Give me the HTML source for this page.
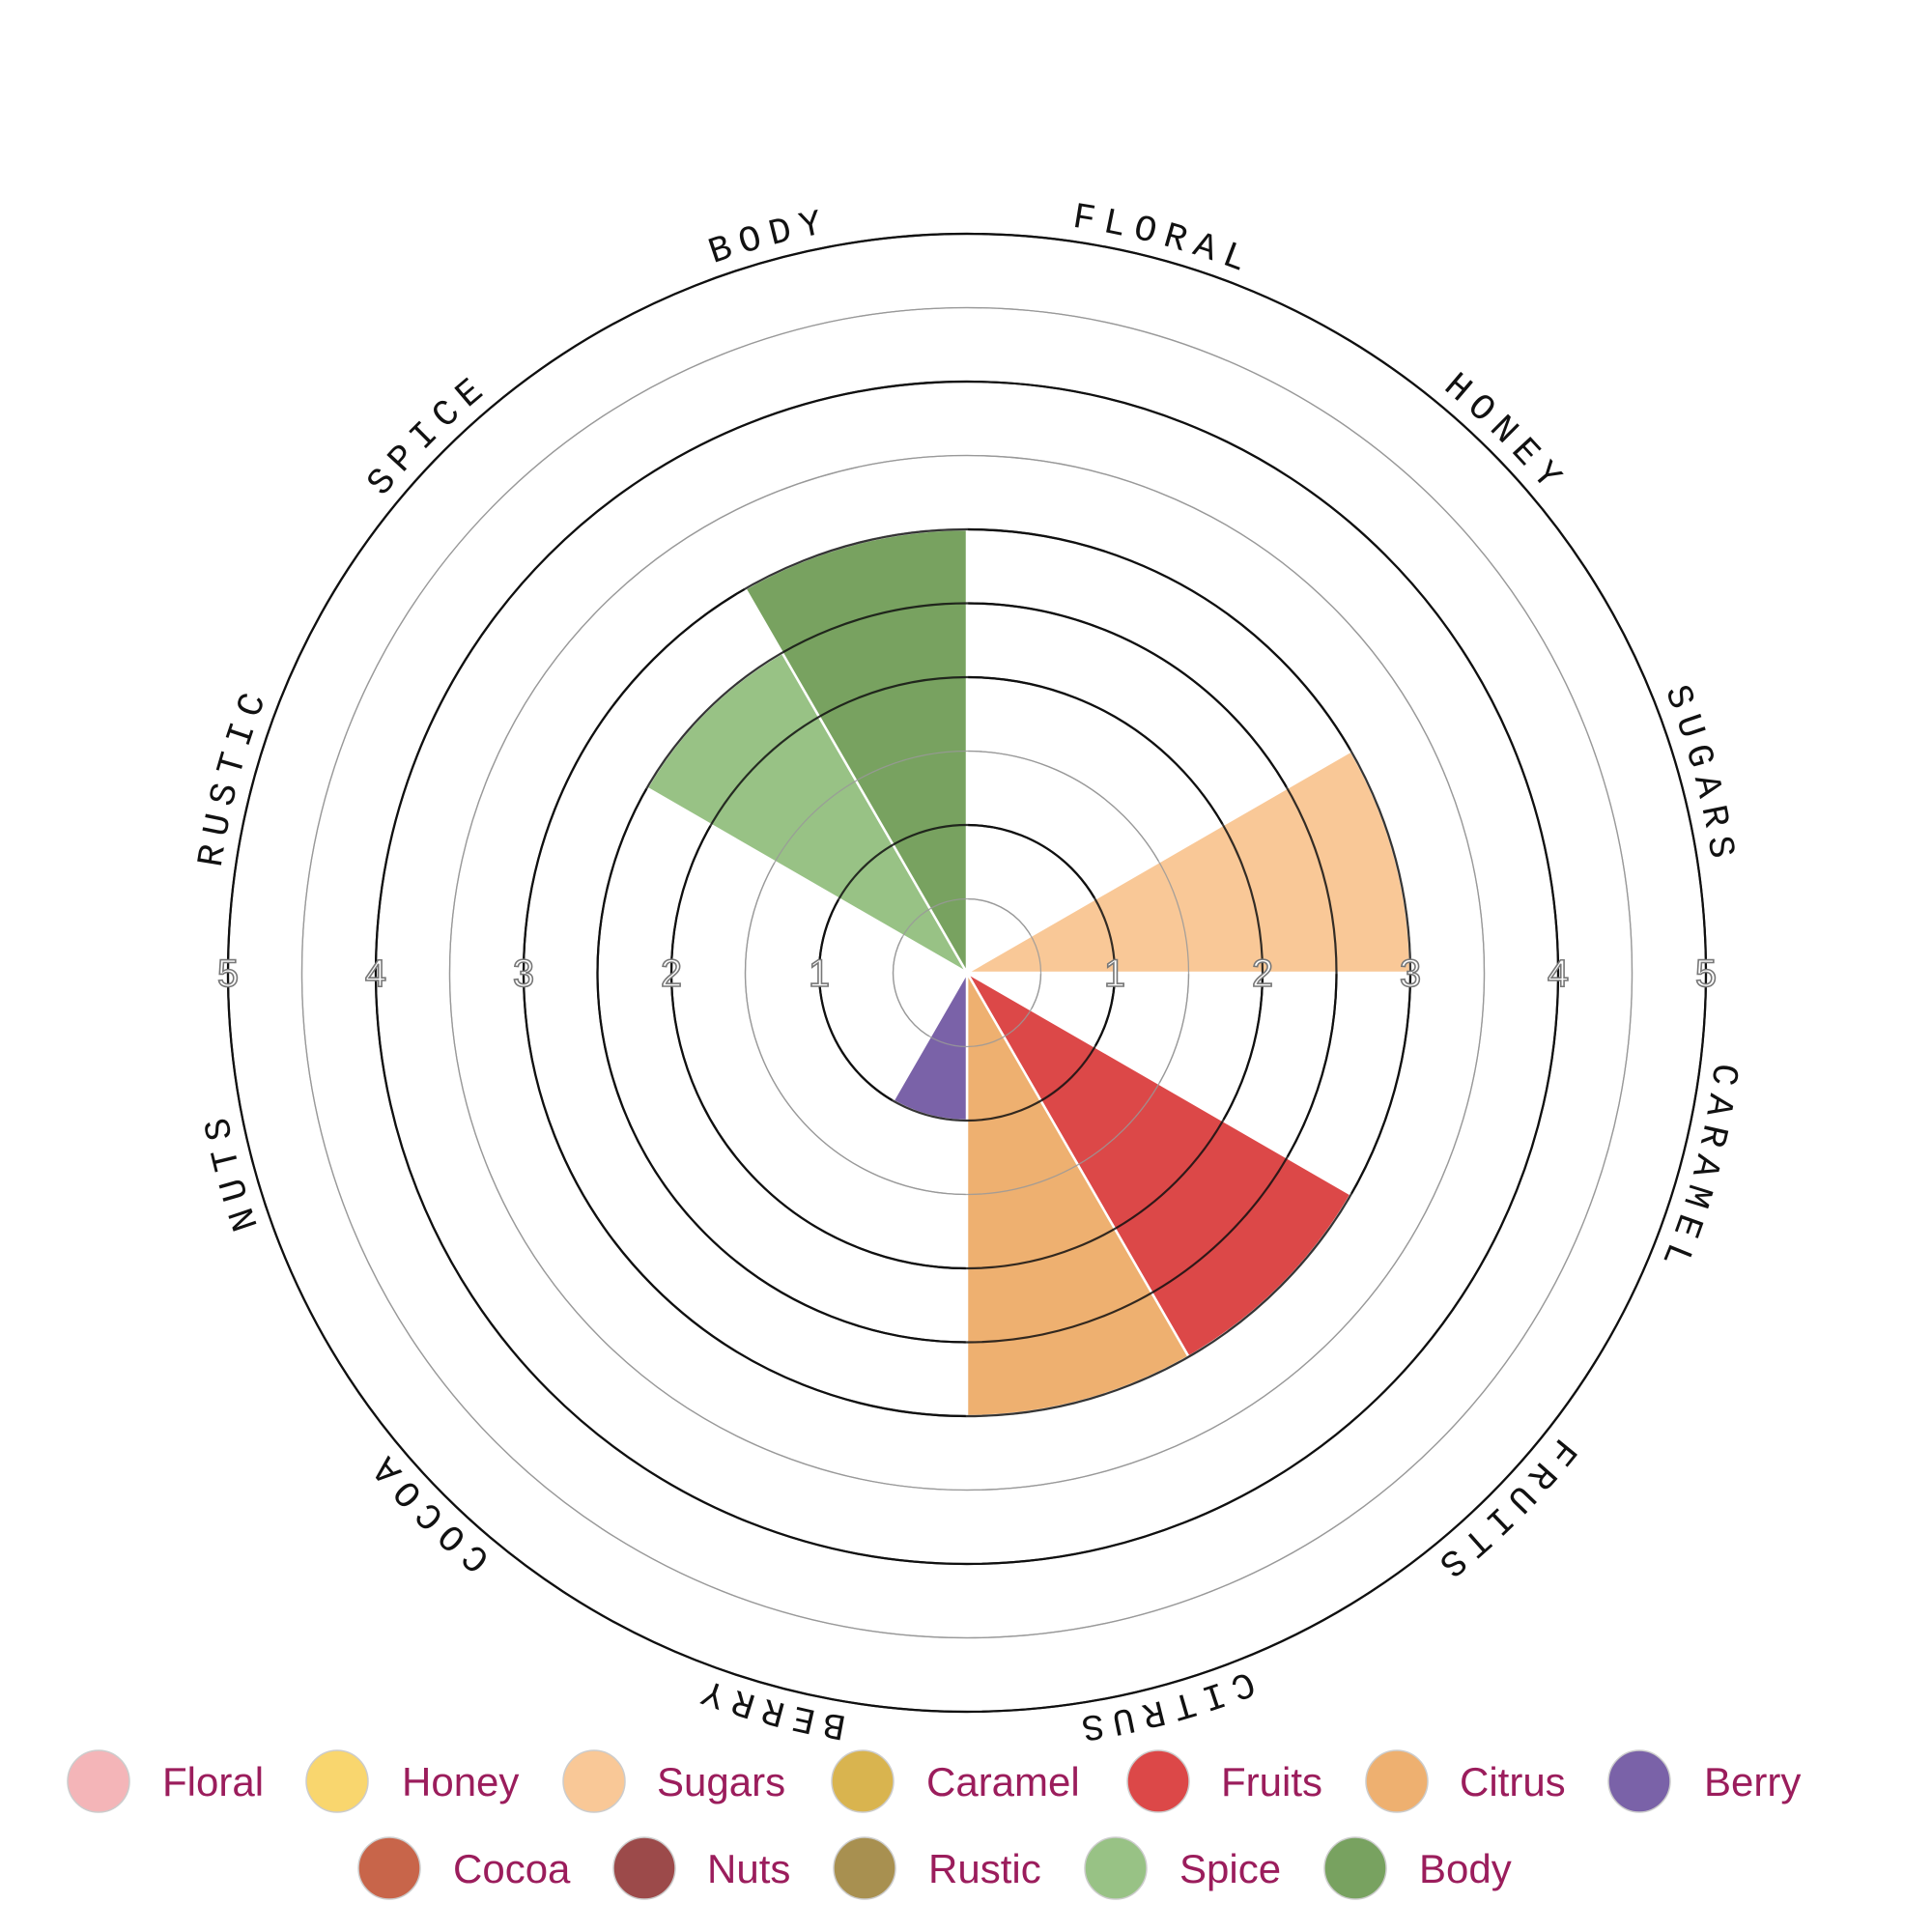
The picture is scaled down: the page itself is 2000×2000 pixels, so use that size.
<!DOCTYPE html>
<html><head><meta charset="utf-8"><style>
html,body{margin:0;padding:0;background:#fff;}
svg{display:block;}
</style></head><body>
<svg id="chart" width="2000" height="2000" viewBox="0 0 2000 2000" xmlns="http://www.w3.org/2000/svg">
<g id="rings"></g>
<g id="wedges"></g>
<g id="ticks"></g>
<g id="labels"></g>
<g id="legend"></g>
</svg>
<script>
const categories = ["Floral","Honey","Sugars","Caramel","Fruits","Citrus","Berry","Cocoa","Nuts","Rustic","Spice","Body"];
const values = [0,0,3,0,3,3,1,0,0,0,2.5,3];
const colors = ["#f4b5b8","#f9d66e","#f9c897","#d9b44f","#dc4848","#eeb070","#7a62a8","#c8654a","#9c4a4a","#a89050","#98c285","#78a260"];
const tickLabels = ["1","2","3","4","5"];
const maxVal = 5;

const NS="http://www.w3.org/2000/svg";
const cx=1001, cy=1007, R=765;
const rScale=v=>v/maxVal*R;
const aScale=i=>i*360/categories.length;
function pt(r,deg){const a=deg*Math.PI/180;return [cx+r*Math.sin(a), cy-r*Math.cos(a)];}
function mk(tag,attrs,parent){const e=document.createElementNS(NS,tag);for(const k in attrs)e.setAttribute(k,attrs[k]);parent.appendChild(e);return e;}

const rings=document.getElementById('rings');
for(let k=1;k<=maxVal*2;k++){
  const v=k/2;
  const major=(k%2===0)||k===5;
  const c=mk('circle',{cx:cx,cy:cy,r:rScale(v),fill:'none',stroke:major?'#111':'#999',"stroke-width":major?2.2:1.3},rings);
  
  
}

const wg=document.getElementById('wedges');
categories.forEach((c,i)=>{
  const v=values[i]; if(v<=0) return;
  const r=rScale(v), a0=aScale(i), a1=aScale(i+1);
  const p0=pt(r,a0), p1=pt(r,a1);
  const p=mk('path',{d:`M${cx},${cy}L${p0[0]},${p0[1]}A${r},${r} 0 0 1 ${p1[0]},${p1[1]}Z`,fill:colors[i],stroke:'#fff',"stroke-width":2.5,"stroke-linejoin":"round"},wg);
  
  
});
// redraw rings faintly over wedges
for(let k=1;k<=maxVal*2;k++){
  const v=k/2; const major=(k%2===0)||k===5;
  const c=mk('circle',{cx:cx,cy:cy,r:rScale(v),fill:'none',stroke:major?'#111':'#999',"stroke-width":major?2.2:1.3,opacity:0.85},wg);
  
  
}

const tg=document.getElementById('ticks');
tickLabels.forEach((t,i)=>{
  const r=rScale(i+1);
  [cx+r,cx-r].forEach(x=>{
    const e=mk('text',{x:x,y:cy+14,"text-anchor":"middle","font-family":"Liberation Sans, sans-serif","font-size":40,fill:'#fff',stroke:'#777',"stroke-width":1.6},tg);
    e.textContent=t;
    
    
  });
});

const lg=document.getElementById('labels');
const LR=780;
mk('path',{id:'labelPath',d:`M${cx},${cy-LR}A${LR},${LR} 0 1 1 ${cx},${cy+LR}A${LR},${LR} 0 1 1 ${cx},${cy-LR}`,fill:'none'},lg);
categories.forEach((c,i)=>{
  const mid=(aScale(i)+aScale(i+1))/2;
  const t=mk('text',{"font-family":"Liberation Mono, monospace","font-size":38,fill:'#111',"letter-spacing":9,"text-anchor":"middle"},lg);
  
  
  const tp=mk('textPath',{href:'#labelPath',startOffset:(mid/360*100)+'%'},t);
  tp.textContent=c.toUpperCase();
});

const leg=document.getElementById('legend');
const rows=[[0,7,[102,349,615,893,1199,1446,1697],[168,416,680,959,1264,1511,1764],1844],[7,12,[403,667,895,1155,1403],[469,732,961,1221,1469],1934]];
rows.forEach(([s,e,cxs,txs,y])=>{
  for(let i=s;i<e;i++){
    const g=mk('g',{},leg);
    
    
    const c=mk('circle',{cx:cxs[i-s],cy:y,r:32,fill:colors[i],stroke:'#ccc',"stroke-width":1.5},g);
    
    
    const t=mk('text',{x:txs[i-s],y:y+15,"font-family":"Liberation Sans, sans-serif","font-size":42,fill:'#9b1d5c'},g);
    t.textContent=categories[i];
    
    
  }
});
</script>
</body></html>
